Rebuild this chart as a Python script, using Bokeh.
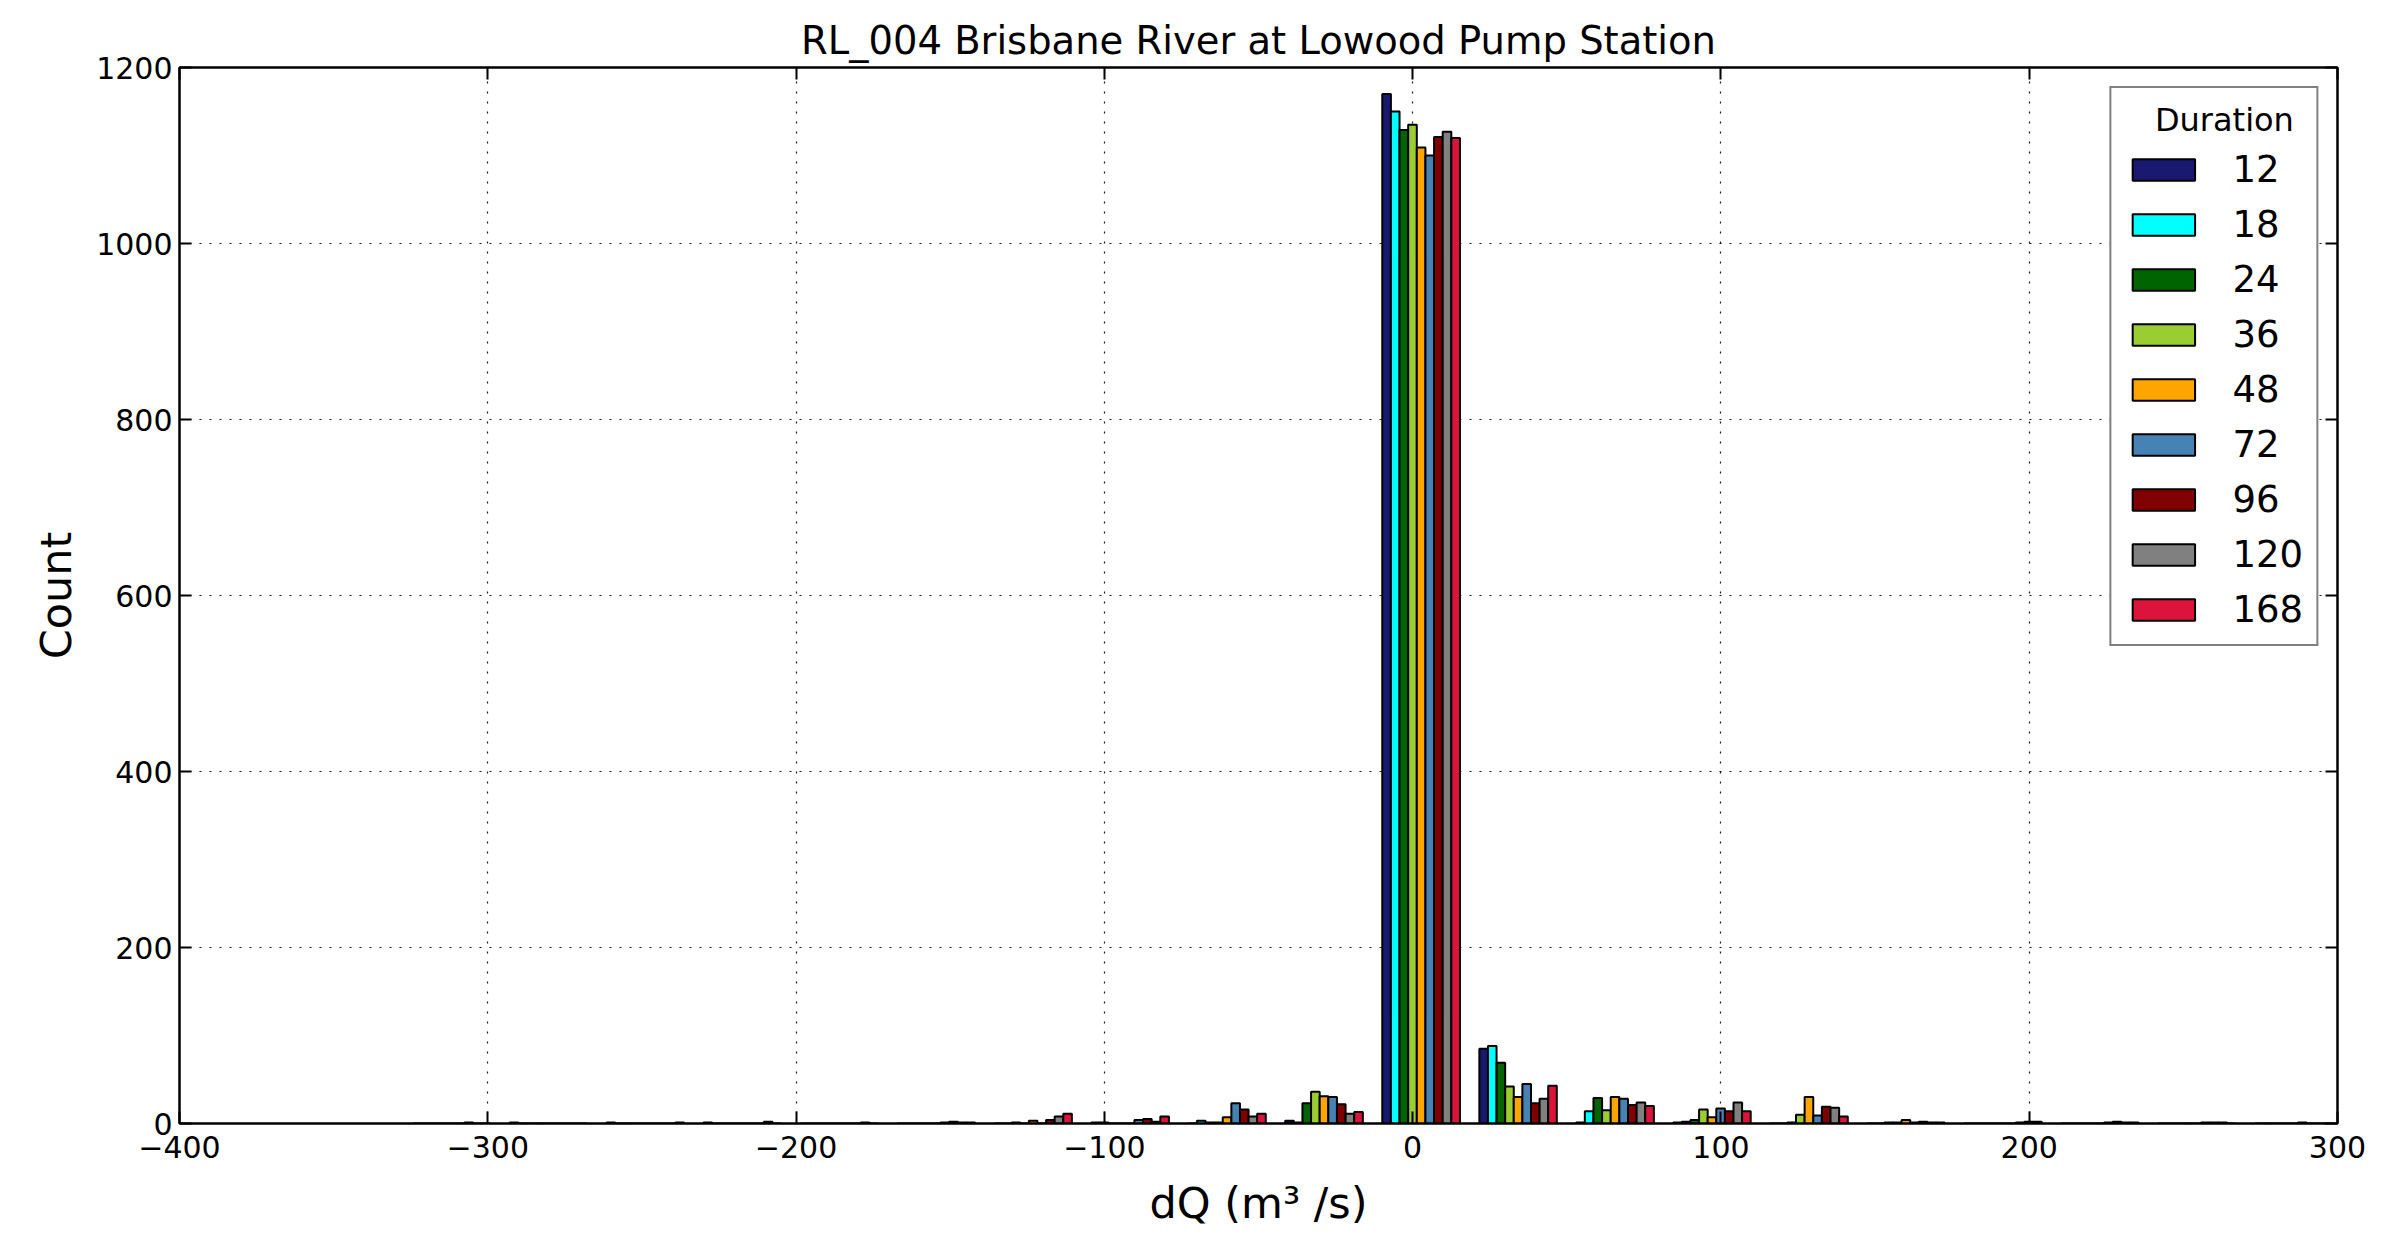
from bokeh.plotting import figure
from bokeh.models import LinearAxis, FixedTicker, Range1d
from bokeh.embed import file_html
from bokeh.resources import INLINE

# ---------------- data ----------------
bin_edges = [-327.5, -296.0, -264.6, -233.2, -201.7, -170.3, -138.8, -107.4, -75.9, -44.5,
             -13.0, 18.5, 49.9, 81.4, 112.8, 144.3, 175.7, 207.2, 238.6, 270.1, 301.5]

durations = ["12", "18", "24", "36", "48", "72", "96", "120", "168"]
colors = ["#191970", "#00FFFF", "#006400", "#9ACD32", "#FFA500", "#4682B4", "#800000", "#808080", "#DC143C"]

counts_12 = [0, 1, 1, 1, 0, 0, 0, 1, 0, 3, 1170, 85, 1, 1, 0, 0, 0, 0, 0, 0]
counts_18 = [0, 0, 0, 0, 0, 0, 0, 1, 3, 1, 1150, 88, 14, 2, 0, 0, 0, 0, 0, 0]
counts_24 = [0, 0, 0, 0, 0, 0, 1, 0, 1, 23, 1129, 69, 29, 4, 1, 1, 0, 0, 0, 0]
counts_36 = [0, 0, 0, 0, 0, 0, 0, 0, 1, 36, 1135, 42, 15, 16, 10, 1, 0, 0, 0, 0]
counts_48 = [0, 0, 0, 0, 0, 0, 3, 0, 7, 31, 1109, 30, 30, 7, 30, 4, 0, 0, 0, 0]
counts_72 = [0, 0, 0, 0, 0, 1, 0, 4, 23, 30, 1100, 45, 28, 17, 9, 1, 0, 1, 1, 1]
counts_96 = [1, 0, 0, 0, 0, 2, 4, 5, 16, 22, 1121, 23, 21, 14, 19, 2, 1, 2, 1, 0]
counts_120 = [0, 0, 0, 2, 1, 1, 8, 2, 8, 11, 1127, 28, 24, 24, 18, 1, 2, 1, 1, 0]
counts_168 = [0, 0, 1, 0, 0, 1, 11, 8, 11, 13, 1120, 43, 20, 14, 8, 1, 2, 1, 0, 0]

series = [counts_12, counts_18, counts_24, counts_36, counts_48, counts_72, counts_96, counts_120, counts_168]

x_ticks = [-400, -300, -200, -100, 0, 100, 200, 300]
x_tick_labels = ["\u2212400", "\u2212300", "\u2212200", "\u2212100", "0", "100", "200", "300"]
y_ticks = [0, 200, 400, 600, 800, 1000, 1200]

title_text = "RL_004 Brisbane River at Lowood Pump Station"
x_label = "dQ (m\u00b3 /s)"
y_label = "Count"
legend_title = "Duration"

# ---------------- figure ----------------
W, H = 2381, 1250
p = figure(width=W, height=H, output_backend="svg", toolbar_location=None,
           x_range=Range1d(-400, 300), y_range=Range1d(0, 1200),
           min_border_left=179, min_border_right=44, min_border_top=67, min_border_bottom=127)

FONT = "DejaVu Sans"
p.title.text = title_text
p.title.text_font = FONT
p.title.text_font_size = "38.5px"
p.title.text_font_style = "normal"
p.title.text_color = "black"
p.title.align = "center"
p.title.offset = 0
p.title.standoff = 10

p.background_fill_color = "white"
p.border_fill_color = "white"
p.outline_line_color = "black"
p.outline_line_width = 2

# bars (matplotlib-style grouped histogram, rwidth 0.8)
nser = len(series)
for i, (vals, lab, col) in enumerate(zip(series, durations, colors)):
    xs, ws = [], []
    for k in range(len(vals)):
        left, right = bin_edges[k], bin_edges[k + 1]
        bw = right - left
        sub = 0.8 * bw / nser
        xs.append(left + 0.1 * bw + (i + 0.5) * sub)
        ws.append(sub)
    p.vbar(x=xs, width=ws, top=vals, bottom=0, fill_color=col, line_color="black",
           line_width=2, legend_label=lab)

# grid
for g in (p.xgrid, p.ygrid):
    g.grid_line_color = "black"
    g.grid_line_dash = "2 8"
    g.grid_line_width = 1.2
    g.grid_line_alpha = 0.9
p.xgrid.ticker = FixedTicker(ticks=x_ticks)
p.ygrid.ticker = FixedTicker(ticks=y_ticks)

# axes
xa = p.xaxis[0]
ya = p.yaxis[0]
xa.ticker = FixedTicker(ticks=x_ticks)
ya.ticker = FixedTicker(ticks=y_ticks)
xa.major_label_overrides = {t: l for t, l in zip(x_ticks, x_tick_labels)}
for ax in (xa, ya):
    ax.axis_line_color = "black"
    ax.axis_line_width = 2
    ax.major_tick_in = 12
    ax.major_tick_out = 0
    ax.major_tick_line_width = 2
    ax.minor_tick_in = 0
    ax.minor_tick_out = 0
    ax.major_label_text_font = FONT
    ax.major_label_text_font_size = "30px"
    ax.major_label_text_color = "black"
    ax.axis_label_text_font = FONT
    ax.axis_label_text_font_size = "43px"
    ax.axis_label_text_font_style = "normal"
    ax.axis_label_text_color = "black"
xa.major_label_standoff = 12
ya.major_label_standoff = 7
xa.axis_label = x_label
ya.axis_label = y_label
xa.axis_label_standoff = 17
ya.axis_label_standoff = 12

for loc in ("above", "right"):
    ax = LinearAxis(ticker=FixedTicker(ticks=x_ticks if loc == "above" else y_ticks))
    ax.axis_line_color = "black"
    ax.axis_line_width = 2
    ax.major_tick_in = 12
    ax.major_tick_out = 0
    ax.major_tick_line_width = 2
    ax.minor_tick_in = 0
    ax.minor_tick_out = 0
    ax.major_label_text_color = None
    ax.major_label_text_font_size = "1px"
    ax.major_label_standoff = 0
    p.add_layout(ax, loc)

# legend (title padded with non-breaking spaces to sit centred, as in the reference)
lg = p.legend[0]
lg.location = "top_right"
lg.margin = 19
lg.padding = 13
lg.title = "\u00a0\u00a0\u00a0" + legend_title
lg.title_text_font = FONT
lg.title_text_font_size = "32px"
lg.title_text_font_style = "normal"
lg.title_text_color = "black"
lg.title_standoff = 9
lg.label_text_font = FONT
lg.label_text_font_size = "37px"
lg.label_text_color = "black"
lg.label_standoff = 30
lg.glyph_width = 78
lg.glyph_height = 27
lg.spacing = 12
lg.border_line_color = "black"
lg.border_line_width = 2.5
lg.background_fill_color = "white"
lg.background_fill_alpha = 1.0

open("out.html", "w").write(file_html(p, INLINE))
